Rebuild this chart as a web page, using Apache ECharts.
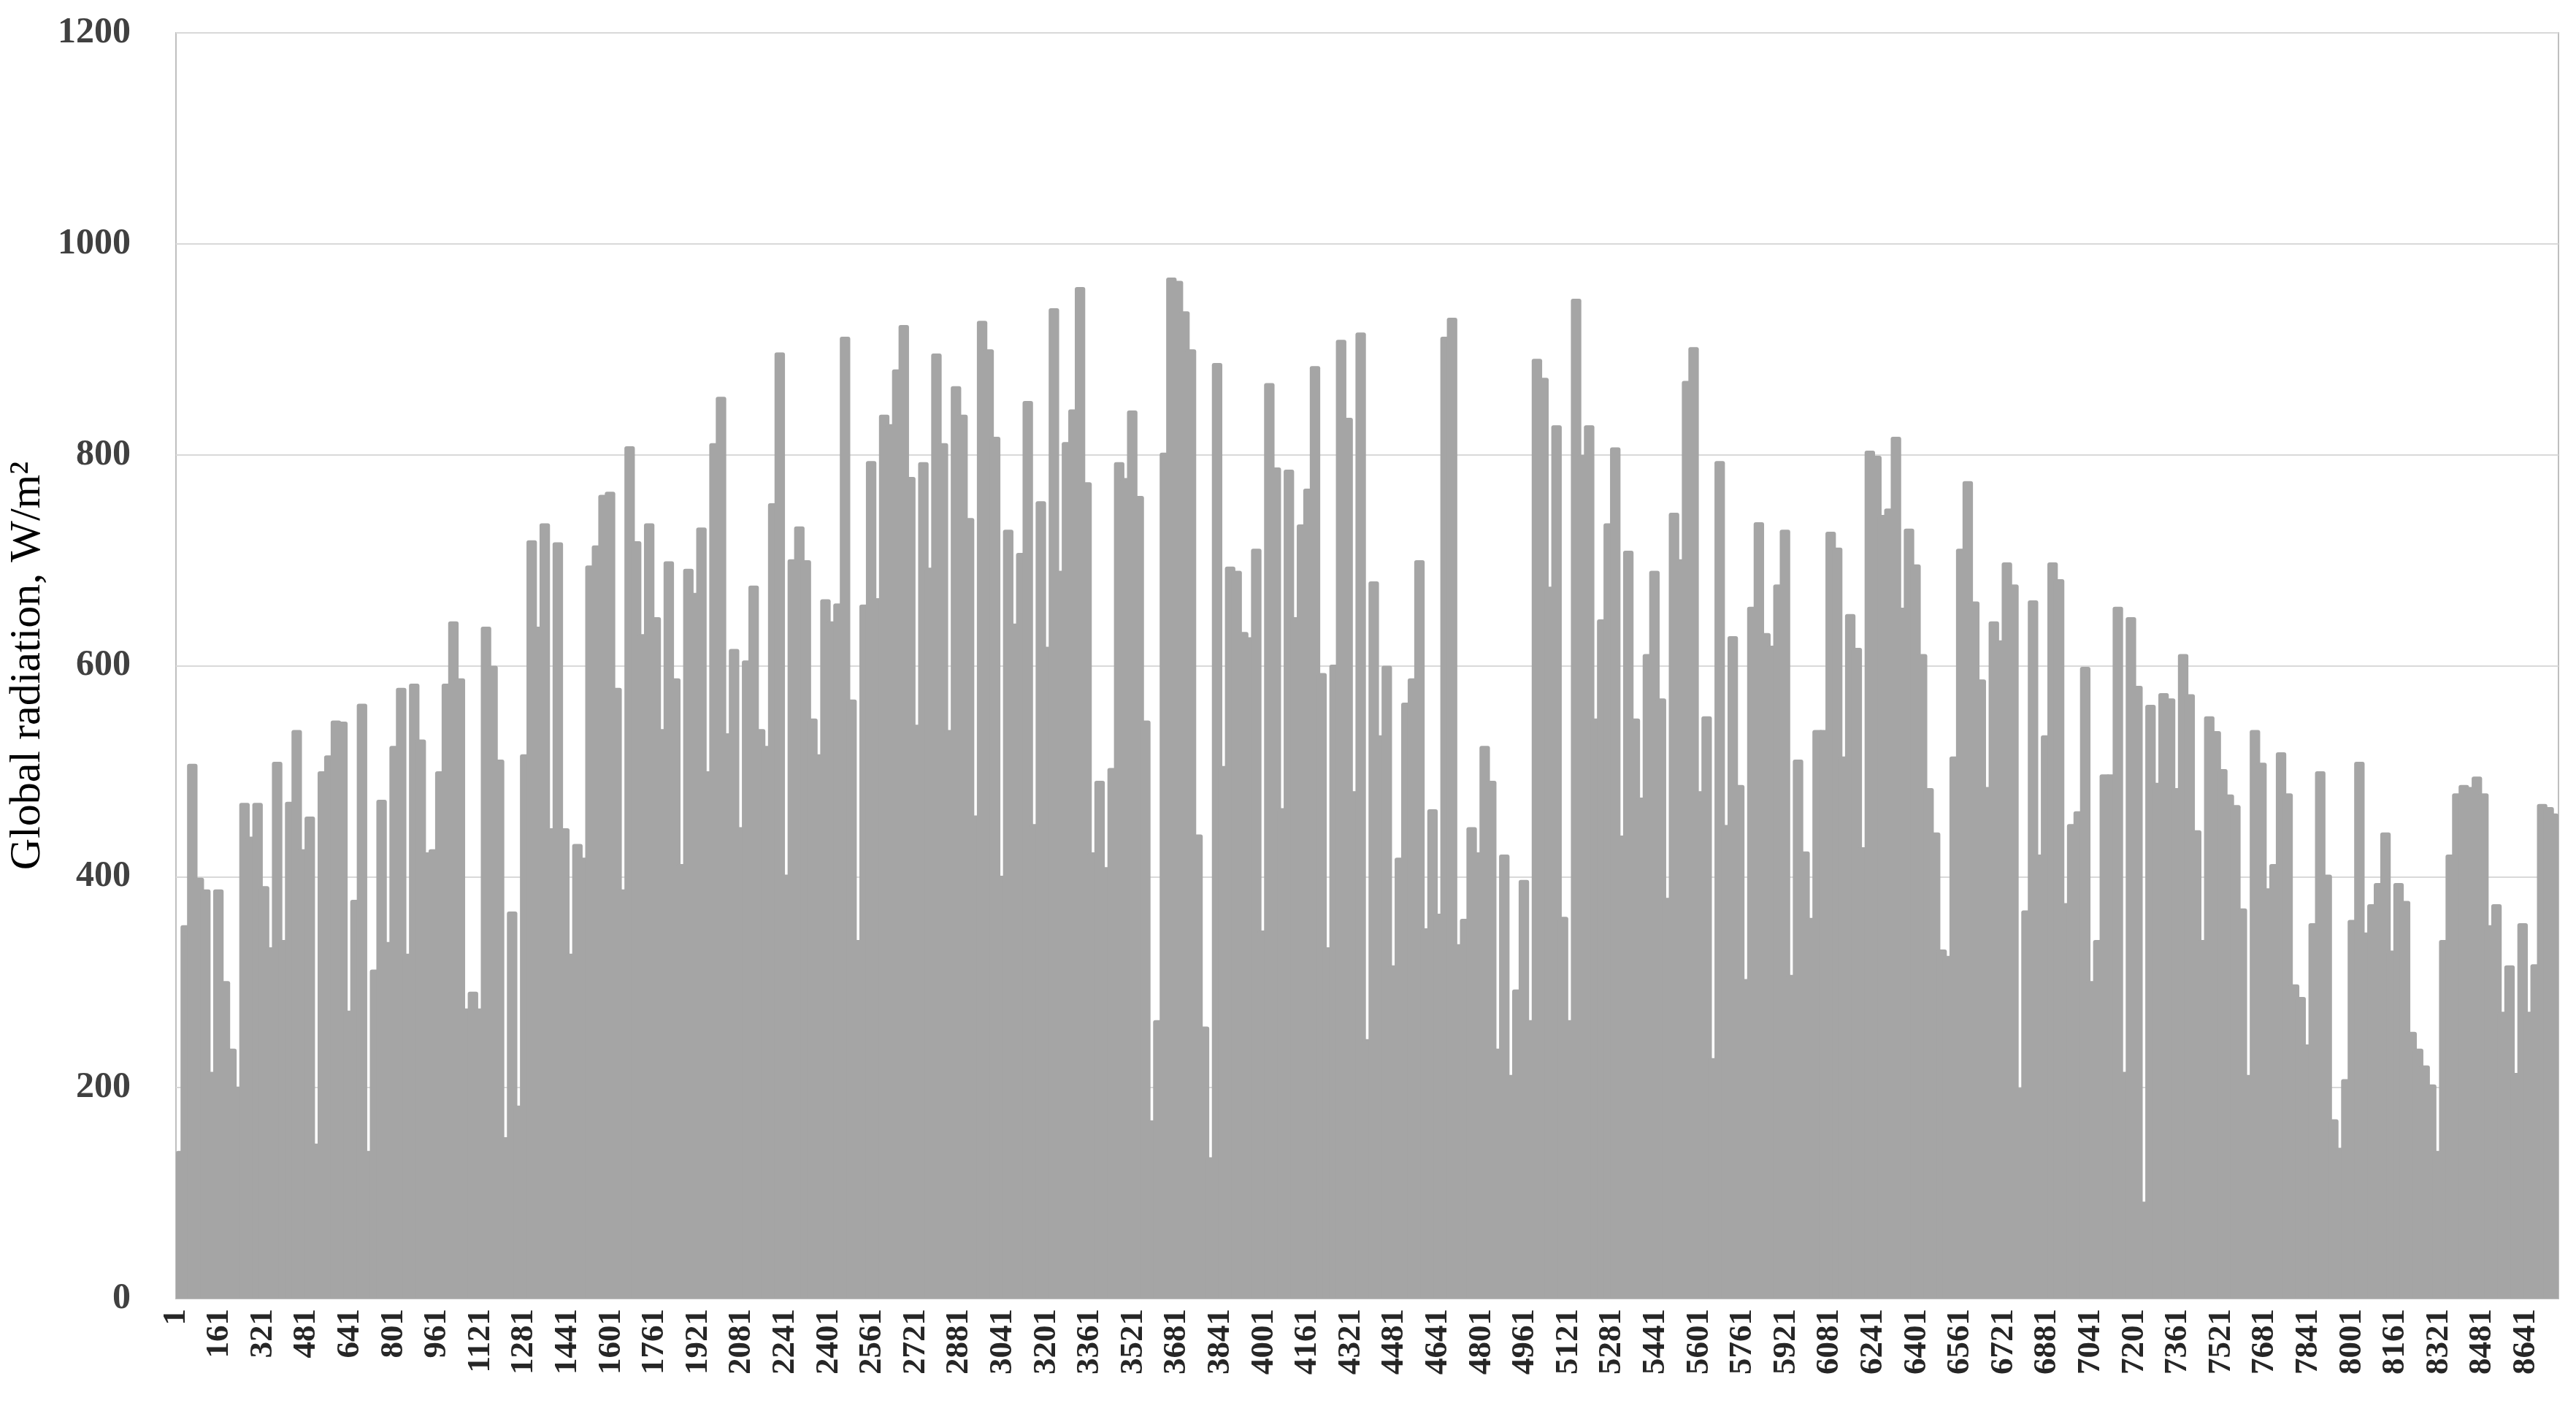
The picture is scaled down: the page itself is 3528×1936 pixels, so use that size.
<!DOCTYPE html>
<html>
<head>
<meta charset="utf-8">
<script src="https://cdn.jsdelivr.net/npm/echarts@6/dist/echarts.min.js"></script>
<style>
  html, body { margin: 0; padding: 0; background: #ffffff; }
  #chart { width: 3528px; height: 1936px; }
</style>
</head>
<body>
<div id="chart"></div>
<script>
// Daily peak of global radiation (W/m2), one value per day of the year (365 days)
const dailyPeak = [
  140, 354, 507, 399, 388, 215, 388, 301, 237, 201, 470, 438, 470, 391, 333, 509, 340, 471, 539, 426,
  457, 147, 500, 515, 548, 547, 273, 378, 564, 140, 312, 473, 338, 524, 579, 327, 583, 530, 423, 426,
  500, 583, 642, 588, 275, 291, 275, 637, 600, 511, 153, 367, 183, 516, 719, 637, 735, 446, 717, 446,
  327, 431, 418, 695, 714, 762, 765, 579, 388, 808, 718, 630, 735, 646, 540, 699, 588, 412, 692, 669,
  731, 500, 811, 855, 536, 616, 447, 605, 676, 540, 524, 754, 897, 402, 701, 732, 700, 550, 516, 663,
  642, 659, 912, 568, 340, 658, 794, 664, 838, 829, 881, 923, 779, 544, 793, 693, 896, 811, 539, 865,
  838, 740, 458, 927, 900, 817, 401, 729, 640, 707, 851, 450, 756, 618, 939, 690, 812, 843, 959, 774,
  423, 491, 409, 503, 793, 778, 842, 761, 548, 169, 264, 802, 968, 965, 936, 900, 440, 258, 134, 887,
  505, 694, 690, 632, 627, 711, 349, 868, 788, 465, 786, 646, 734, 768, 884, 593, 333, 601, 909, 835,
  481, 916, 246, 680, 534, 600, 316, 418, 565, 588, 700, 351, 464, 365, 912, 930, 336, 360, 447, 423,
  524, 491, 237, 421, 212, 293, 397, 264, 891, 873, 675, 828, 362, 264, 948, 800, 828, 550, 644, 735,
  807, 439, 709, 550, 475, 611, 690, 569, 380, 745, 701, 870, 902, 481, 552, 228, 794, 449, 628, 487,
  303, 656, 736, 631, 619, 677, 729, 307, 511, 424, 361, 539, 539, 727, 712, 514, 649, 617, 428, 804,
  799, 743, 749, 817, 655, 730, 696, 611, 484, 442, 331, 325, 514, 711, 775, 661, 587, 485, 642, 624,
  698, 677, 200, 368, 662, 421, 534, 698, 682, 375, 450, 462, 599, 301, 340, 497, 497, 656, 215, 646,
  581, 92, 563, 489, 574, 569, 484, 611, 573, 444, 340, 552, 538, 502, 478, 468, 370, 212, 539, 508,
  389, 412, 518, 479, 298, 286, 241, 356, 500, 402, 170, 143, 208, 359, 509, 347, 374, 394, 442, 330,
  394, 377, 253, 237, 221, 203, 140, 340, 421, 479, 487, 485, 495, 479, 354, 374, 272, 316, 214, 356,
  272, 317, 469, 466, 460
];
const days = dailyPeak.map((_, i) => 'Day ' + (i + 1));
const hoursInYear = 8760;
const hourTickStep = 160;
const yTicks = { min: 0, max: 1200, step: 200 };
const yTitle = 'Global radiation, W/m\u00B2';

const chart = echarts.init(document.getElementById('chart'), null, { renderer: 'canvas' });
const serif = '"Liberation Serif", "Times New Roman", serif';

chart.setOption({
  animation: false,
  backgroundColor: '#ffffff',
  grid: {
    left: 241, right: 24, top: 45, bottom: 158,
    show: true, borderColor: '#bfbfbf', borderWidth: 2, backgroundColor: 'transparent'
  },
  xAxis: [
    {
      type: 'category', data: days, show: false, boundaryGap: true
    },
    {
      type: 'value', min: 0, max: hoursInYear, interval: hourTickStep,
      position: 'bottom',
      axisLine: { show: true, lineStyle: { color: '#bfbfbf', width: 2 } },
      axisTick: { show: false },
      splitLine: { show: false },
      axisLabel: {
        rotate: 90, margin: 14, showMaxLabel: false,
        fontFamily: serif, fontWeight: 'bold', fontSize: 45, color: '#262626',
        formatter: v => String(v + 1)
      }
    }
  ],
  yAxis: {
    type: 'value', min: yTicks.min, max: yTicks.max, interval: yTicks.step,
    name: yTitle, nameLocation: 'middle', nameGap: 152, nameRotate: 90,
    nameTextStyle: { fontFamily: serif, fontSize: 60, color: '#000000' },
    axisLine: { show: false },
    axisTick: { show: false },
    splitLine: { show: true, lineStyle: { color: '#d9d9d9', width: 2 } },
    axisLabel: {
      margin: 62, fontFamily: serif, fontWeight: 'bold', fontSize: 50, color: '#404040',
      formatter: v => String(v)
    }
  },
  series: [{
    type: 'bar',
    xAxisIndex: 0,
    data: dailyPeak,
    barWidth: '160%',
    itemStyle: { color: '#a5a5a5', borderRadius: [3, 3, 0, 0] },
    emphasis: { disabled: true },
    silent: true
  }]
});
</script>
</body>
</html>
